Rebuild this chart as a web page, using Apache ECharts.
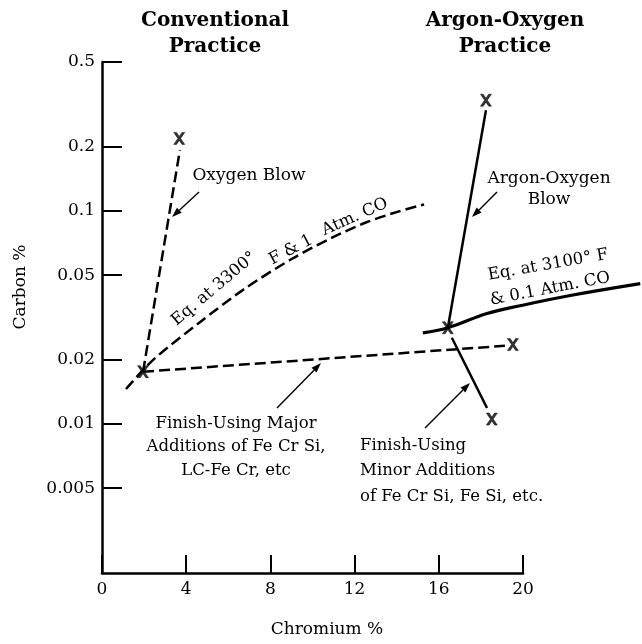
<!DOCTYPE html>
<html><head><meta charset="utf-8">
<script src="https://cdn.jsdelivr.net/npm/echarts@6/dist/echarts.min.js"></script>
<style>html,body{margin:0;padding:0;background:#fff}#c{width:642px;height:644px}</style>
</head><body><div id="c"></div>
<script>
// ---- data ----
const xTicks = [0, 4, 8, 12, 16, 20];
const yTicks = [0.005, 0.01, 0.02, 0.05, 0.1, 0.2, 0.5];
const yTickLabels = ['0.005', '0.01', '0.02', '0.05', '0.1', '0.2', '0.5'];

const oxygenBlow = [[1.95, 0.0176], [3.7, 0.193]];
const eq3300 = [[1.14, 0.0146], [2.38, 0.0198], [4.62, 0.0299], [6.86, 0.0437], [9.05, 0.0598], [10.95, 0.0751], [12.54, 0.0883], [14.11, 0.0996], [15.30, 0.1073]];
const majorAdd = [[1.95, 0.0176], [19.14, 0.0233]];
const argonBlow = [[16.43, 0.0283], [18.24, 0.297]];
const eq3100 = [[15.24, 0.0268], [16.43, 0.0283], [18.29, 0.0330], [19.86, 0.0359], [22.24, 0.0401], [25.57, 0.0456]];
const minorAdd = [[16.62, 0.0254], [18.29, 0.0119]];
const endPoints = [[1.95, 0.0176], [3.67, 0.219], [19.52, 0.0236], [16.43, 0.0283], [18.24, 0.331], [18.52, 0.01055]];

// ---- chart ----
const FONT = 'DejaVu Serif';
const chart = echarts.init(document.getElementById('c'), null, {renderer: 'canvas'});
const X_PATH = 'path://M0,0L3,0L6,4L9,0L12,0L7.5,6L12,12L9,12L6,8L3,12L0,12L4.5,6Z';

const G_LEFT = 102, G_RIGHT = 119, G_TOP = 62, G_BOTTOM = 71, W = 642;
const plotW = W - G_LEFT - G_RIGHT;
const wideW = W - G_LEFT;
const X_MAX = 20;

function lineSeries(data, dashed, width, smooth, idx) {
  return {
    type: 'line', data: data, symbol: 'none', smooth: smooth || false, clip: false,
    xAxisIndex: idx || 0, yAxisIndex: idx || 0,
    lineStyle: {color: '#000', width: width, type: dashed ? [11, 5] : 'solid', cap: 'butt'},
    silent: true, animation: false
  };
}

function arrow(x1, y1, x2, y2) {
  const a = Math.atan2(y2 - y1, x2 - x1);
  const L = 10, Wd = 3.5;
  const bx = x2 - L * Math.cos(a), by = y2 - L * Math.sin(a);
  return [
    {type: 'line', shape: {x1: x1, y1: y1, x2: bx, y2: by}, style: {stroke: '#000', lineWidth: 1.4}},
    {type: 'polygon', shape: {points: [[x2, y2], [bx + Wd * Math.sin(a), by - Wd * Math.cos(a)], [bx - Wd * Math.sin(a), by + Wd * Math.cos(a)]]}, style: {fill: '#000'}}
  ];
}

function txt(text, x, y, opts) {
  opts = opts || {};
  return {
    type: 'text', x: x, y: y, rotation: (opts.rot || 0) * Math.PI / 180,
    style: {
      text: text, x: 0, y: 0, fill: '#000',
      fontFamily: FONT, fontSize: opts.size || 16.5, fontWeight: opts.bold ? 'bold' : 'normal',
      align: opts.align || 'center', verticalAlign: 'middle', lineHeight: opts.lh || 24
    }
  };
}

const graphics = [].concat(
  [
    txt('Conventional\nPractice', 215, 34, {bold: true, size: 20, lh: 26}),
    txt('Argon-Oxygen\nPractice', 505, 34, {bold: true, size: 20, lh: 26}),
    txt('Oxygen Blow', 249, 176, {size: 17}),
    txt('Argon-Oxygen\nBlow', 549, 189, {lh: 21, size: 17}),
    txt('Eq. at 3300°', 214, 289, {rot: 40}),
    txt('F & 1', 291, 250, {rot: 28}),
    txt('Atm. CO', 355, 217, {rot: 24}),
    txt('Eq. at 3100° F', 548, 265, {rot: 10}),
    txt('& 0.1 Atm. CO', 550, 289, {rot: 11}),
    txt('Finish-Using Major\nAdditions of Fe Cr Si,\nLC-Fe Cr, etc', 236, 447, {lh: 23.5}),
    txt('Finish-Using\nMinor Additions\nof Fe Cr Si, Fe Si, etc.', 360, 471, {align: 'left', lh: 25.5}),
    txt('Carbon %', 21, 287, {rot: 90, size: 17}),
    txt('Chromium %', 327, 630, {size: 17})
  ],
  arrow(199, 192, 172, 217),
  arrow(497, 192, 472, 217),
  arrow(277, 408, 321, 363),
  arrow(425, 428, 470, 383)
);

function yLabel(v) {
  for (let i = 0; i < yTicks.length; i++) {
    if (Math.abs(Math.log10(v) - Math.log10(yTicks[i])) < 0.01) return yTickLabels[i];
  }
  return '';
}

chart.setOption({
  animation: false,
  backgroundColor: '#fff',
  grid: [
    {left: G_LEFT, right: G_RIGHT, top: G_TOP, bottom: G_BOTTOM, containLabel: false},
    {left: G_LEFT, right: 0, top: G_TOP, bottom: G_BOTTOM, containLabel: false}
  ],
  xAxis: [{
    type: 'value', min: 0, max: X_MAX, interval: 4, gridIndex: 0,
    axisLine: {show: true, onZero: false, lineStyle: {color: '#000', width: 2.5}},
    axisTick: {show: true, inside: true, length: 18, lineStyle: {color: '#000', width: 2}},
    axisLabel: {color: '#000', fontFamily: FONT, fontSize: 17, margin: 8},
    splitLine: {show: false}
  }, {
    type: 'value', min: 0, max: X_MAX * wideW / plotW, gridIndex: 1, show: false
  }],
  yAxis: [{
    type: 'log', logBase: 10, min: 0.002, max: 0.5, gridIndex: 0,
    axisLine: {show: true, lineStyle: {color: '#000', width: 2.5}},
    axisTick: {show: true, inside: true, length: 20, lineStyle: {color: '#000', width: 2}, customValues: yTicks},
    axisLabel: {color: '#000', fontFamily: FONT, fontSize: 17, margin: 7, customValues: yTicks, formatter: yLabel},
    splitLine: {show: false}, minorTick: {show: false}
  }, {
    type: 'log', logBase: 10, min: 0.002, max: 0.5, gridIndex: 1, show: false
  }],
  series: [
    lineSeries(oxygenBlow, true, 2.5),
    lineSeries(eq3300, true, 2.5, 0.3),
    lineSeries(majorAdd, true, 2.5),
    lineSeries(argonBlow, false, 2.5),
    lineSeries(eq3100, false, 3.2, 0.4, 1),
    lineSeries(minorAdd, false, 2.5),
    {
      type: 'scatter', data: endPoints, symbol: X_PATH, symbolSize: [11, 12],
      itemStyle: {color: '#000', borderColor: '#000', borderWidth: 0.6}, silent: true, clip: false, z: 5
    }
  ],
  graphic: graphics
});
</script>
</body></html>
